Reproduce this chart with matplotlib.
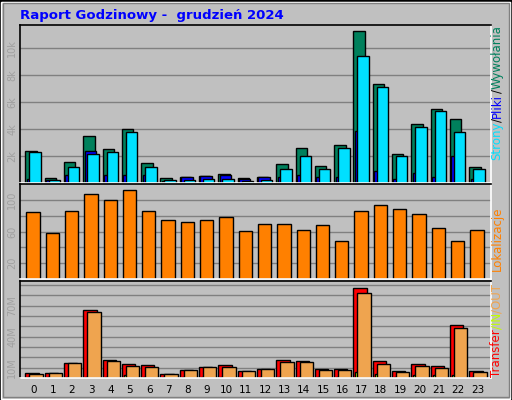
import matplotlib
matplotlib.use("Agg")
import matplotlib.pyplot as plt
from matplotlib.patches import Rectangle
import numpy as np

hours = list(range(24))
hits = [2.37,0.32,1.55,3.48,2.52,4.0,1.48,0.32,0.4,0.52,0.62,0.32,0.44,1.41,2.59,1.26,2.81,11.26,7.33,2.15,4.37,5.48,4.74,1.19]
files = [0.25,0.2,0.6,2.37,0.6,0.55,0.55,0.1,0.4,0.5,0.6,0.3,0.45,0.45,0.55,0.45,0.45,3.8,0.85,0.3,0.7,0.45,2.0,0.3]
pages = [2.3,0.22,1.19,2.15,2.3,3.78,1.19,0.22,0.22,0.3,0.3,0.15,0.22,1.04,2.0,1.04,2.59,9.41,7.11,2.0,4.15,5.33,3.78,1.04]
visits = [85,57.5,86.5,108,100.4,111.8,86.5,75,71.4,74,77.7,61,70,70,62.5,67.6,48.6,86.5,94,89,82.7,63.8,48.6,61.3]
kbytes = [5.2,5.2,14.8,65.5,17.7,13.9,12.3,4.2,8.1,11,12.3,7.1,9,17.7,16.8,9,9,87.4,16.8,7.1,13.9,11.9,51.6,7.1]
kin = [1,0.5,0.5,1,1,2.5,1,0.5,0.5,0.5,0.5,0.5,0.5,1,1,1,1,6,3.5,1,2.5,2.5,2.5,1]
kout = [4.2,5.2,14.8,64.2,16.8,11.9,11,4.2,8.1,11,11,7.1,9,15.8,15.8,8.1,8.1,82.6,13.9,6.1,11.9,10,48.7,6.1]

W, H = 512, 400
fig = plt.figure(figsize=(W/100, H/100), dpi=100)
fig.patch.set_facecolor('#C0C0C0')
fig.add_artist(Rectangle((0,0),1,1,transform=fig.transFigure,fill=False,ec='black',lw=2))
fig.add_artist(Rectangle((1/W,1/H),1-3/W,1-3/H,transform=fig.transFigure,fill=False,ec='white',lw=1))
fig.add_artist(Rectangle((3/W,3/H),1-6/W,1-6/H,transform=fig.transFigure,fill=False,ec='#808080',lw=1))

fig.text(20/W, 1-15/H, "Raport Godzinowy -  grudzień 2024", color='#0000FF',
         fontsize=9.5, fontweight='bold', va='center', ha='left')

x0p, x1p = 20, 490.7
def mkax(top, bot):
    ax = fig.add_axes([x0p/W, 1-bot/H, (x1p-x0p)/W, (bot-top)/H])
    ax.set_facecolor('#C0C0C0')
    for s in ['left','top']:
        ax.spines[s].set_color('black')
    for s in ['right','bottom']:
        ax.spines[s].set_color('white')
    for s in ax.spines.values():
        s.set_linewidth(1.2)
    ax.set_xlim(-0.275, 24.11)
    ax.set_xticks([])
    ax.tick_params(axis='y', length=0, labelsize=7, labelcolor='#A0A0A0', pad=2)
    ax.grid(axis='y', color='#808080', lw=1)
    ax.set_axisbelow(True)
    return ax

px = 1/19.3
x = np.array(hours, dtype=float)
bk = dict(edgecolor='black', linewidth=1, align='edge')

ax1 = mkax(24.7, 182.7)
ax1.bar(x, hits, width=11.4*px, color='#00805C', **bk)
ax1.bar(x+1.4*px, files, width=11.4*px, color='#0000FF', **bk)
ax1.bar(x+4*px, pages, width=11.4*px, color='#00E0FF', **bk)
ax1.set_ylim(0, (182.7-24.7)/((400-319)/3/2))
ax1.set_yticks([2,4,6,8,10])
ax1.set_yticklabels(['2k','4k','6k','8k','10k'], rotation=90, va='center')

ax2 = mkax(184, 279)
ax2.bar(x+1*px, visits, width=13.3*px, color='#FF8000', **bk)
ax2.set_ylim(0, 95/(95/3/40))
ax2.set_yticks([20,40,60,80,100])
ax2.set_yticklabels(['20','','60','','100'], rotation=90, va='center')

ax3 = mkax(281, 378)
ax3.bar(x, kbytes, width=13.3*px, color='#FF0000', **bk)
ax3.bar(x+2*px, kin, width=13.3*px, color='#C0FF00', **bk)
ax3.bar(x+4*px, kout, width=13.3*px, color='#EFA44F', **bk)
ax3.set_ylim(0, 97/(3.1/3))
ax3.set_yticks(range(10, 95, 10))
ax3.set_yticklabels(['10M','','','40M','','','70M','',''], rotation=90, va='center')
ax3.set_xticks(x+0.42)
ax3.set_xticklabels([str(h) for h in hours], fontsize=7.5)
ax3.tick_params(axis='x', length=0, pad=5, labelcolor='black')

fig.canvas.draw()
r = fig.canvas.get_renderer()
def vlegend(parts, ybot):
    y = 1-ybot/H
    for txt, col in parts:
        t = fig.text(497/W, y, txt, color=col, rotation=90, fontsize=8.5,
                     ha='left', va='center', rotation_mode='anchor')
        bb = t.get_window_extent(r)
        y += bb.height/H
vlegend([('Strony', '#00E0FF'), ('/', '#000000'), ('Pliki', '#0000FF'), ('/', '#000000'), ('Wywołania', '#00805C')], 160)
vlegend([('Lokalizacje', '#FF8000')], 271)
vlegend([('Transfer', '#FF0000'), ('/IN', '#C0FF00'), ('/OUT', '#EFA44F')], 377)

fig.savefig('out.png', dpi=100, facecolor=fig.get_facecolor())
